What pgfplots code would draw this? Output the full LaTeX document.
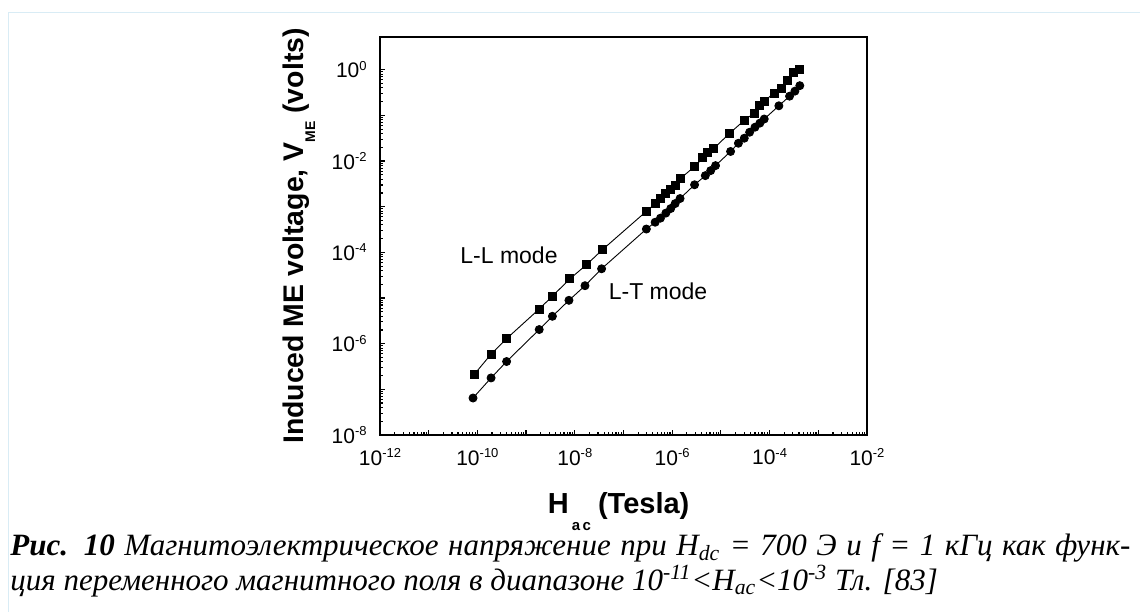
\documentclass[border=0pt]{standalone}
\usepackage{fontspec}
\setmainfont{Liberation Sans}
\newfontfamily\capfont{Liberation Serif}
\usepackage{pgfplots}
\pgfplotsset{compat=1.18}
\definecolor{frameblue}{HTML}{D9ECF5}
\newcommand{\tl}[1]{10\raisebox{3.8pt}{\fontsize{6.5}{7}\selectfont #1}}
\begin{document}
\begin{tikzpicture}
\useasboundingbox (-190pt,-88.5pt) rectangle (380pt,217.5pt);
\fill[white] (-190pt,-88.5pt) rectangle (380pt,217.5pt);
\draw[frameblue, line width=0.8pt] (-185.75pt,-88.5pt) -- (-185.75pt,211.25pt) -- (380pt,211.25pt);
\begin{axis}[
  at={(0,0)}, anchor=south west,
  scale only axis, width=243.5pt, height=199pt,
  xmode=log, ymode=log,
  xmin=1e-12, xmax=1e-2, ymin=1e-8, ymax=5.2,
  xtick={1e-12,1e-11,1e-10,1e-9,1e-8,1e-7,1e-6,1e-5,1e-4,1e-3,1e-2},
  xticklabels={\tl{-12},,\tl{-10},,\tl{-8},,\tl{-6},,\tl{-4},,\tl{-2}},
  ytick={1e-8,1e-7,1e-6,1e-5,1e-4,1e-3,1e-2,1e-1,1},
  yticklabels={\tl{-8},,\tl{-6},,\tl{-4},,\tl{-2},,\tl{0}},
  tick pos=left, tick align=inside,
  major tick length=2.5pt, minor tick length=1.3pt,
  tick style={black, line width=0.6pt},
  axis line style={line width=0.9pt},
  ticklabel style={font=\fontsize{10.5}{12}\selectfont, inner sep=0pt},
  xticklabel style={yshift=-6.5pt},
  yticklabel style={xshift=-6.5pt},
  xlabel={H\kern1.5pt\raisebox{-8.5pt}{\fontsize{7.5}{8}\selectfont a\,c}\kern3.5pt(Tesla)},
  xlabel style={font=\bfseries\fontsize{14.5}{16}\selectfont, at={(axis description cs:0.49,-0.196)}, anchor=base, inner sep=0pt},
  ylabel={Induced ME voltage, V\raisebox{-6pt}{\fontsize{7}{8}\selectfont ME}\ (volts)},
  ylabel style={font=\bfseries\fontsize{14.2}{16}\selectfont, at={(axis description cs:-0.158,0.5)}, anchor=base, inner sep=0pt},
  clip=false,
]
\addplot[black, line width=0.45pt, mark=square*, mark size=2pt] coordinates {
(8.51e-11,2.09e-7) (1.91e-10,5.89e-7) (3.98e-10,1.29e-6) (1.86e-9,5.75e-6)
(3.47e-9,1.10e-5) (7.94e-9,2.63e-5) (1.74e-8,5.37e-5) (3.72e-8,1.15e-4)
(2.95e-7,7.94e-4) (4.47e-7,1.17e-3) (5.75e-7,1.55e-3) (7.41e-7,1.91e-3)
(9.33e-7,2.34e-3) (1.15e-6,2.95e-3) (1.45e-6,4.07e-3) (2.88e-6,7.59e-3)
(4.27e-6,1.17e-2) (5.37e-6,1.51e-2) (7.08e-6,1.86e-2) (1.48e-5,3.98e-2)
(3.02e-5,7.76e-2) (4.79e-5,0.112) (6.31e-5,0.162) (7.76e-5,0.204)
(1.23e-4,0.309) (1.78e-4,0.380) (2.29e-4,0.589) (3.16e-4,0.851) (4.07e-4,1.02)
};
\addplot[black, line width=0.45pt, mark=*, mark size=2pt] coordinates {
(8.13e-11,6.46e-8) (1.91e-10,1.78e-7) (3.98e-10,4.07e-7) (1.86e-9,2.04e-6)
(3.47e-9,3.98e-6) (7.59e-9,8.91e-6) (1.62e-8,1.86e-5) (3.55e-8,4.37e-5)
(2.95e-7,3.24e-4) (4.47e-7,4.57e-4) (5.75e-7,5.62e-4) (7.41e-7,7.24e-4)
(9.33e-7,9.12e-4) (1.15e-6,1.17e-3) (1.45e-6,1.51e-3) (2.88e-6,3.02e-3)
(4.79e-6,4.79e-3) (6.17e-6,6.17e-3) (7.76e-6,7.94e-3) (1.58e-5,1.62e-2)
(2.29e-5,2.45e-2) (3.02e-5,3.16e-2) (3.89e-5,4.27e-2) (5.01e-5,5.50e-2)
(6.31e-5,6.76e-2) (7.76e-5,8.32e-2) (1.55e-4,0.162) (2.57e-4,0.263)
(3.31e-4,0.339) (4.17e-4,0.447)
};
\node[anchor=base west, inner sep=0pt, font=\fontsize{11.5}{13}\selectfont] at (axis cs:4.4e-11,5.7e-5) {L-L mode};
\node[anchor=base west, inner sep=0pt, font=\fontsize{11.5}{13}\selectfont] at (axis cs:4.9e-8,9.5e-6) {L-T mode};
\end{axis}
\node[anchor=base west, inner sep=0pt] at (-185pt,-60pt) {\capfont\fontsize{15.5}{17}\selectfont\hbox to 560pt{\textbf{\textit{Рис. 10}} \textit{Магнитоэлектрическое напряжение при H\textsubscript{dc} = 700 Э и f = 1 кГц как функ-}}};
\node[anchor=base west, inner sep=0pt] at (-185pt,-77.5pt) {\capfont\fontsize{15.5}{17}\selectfont\textit{ция переменного магнитного поля в диапазоне 10\textsuperscript{-11}<H\textsubscript{ac}<10\textsuperscript{-3} Тл. [83]}};
\end{tikzpicture}
\end{document}
